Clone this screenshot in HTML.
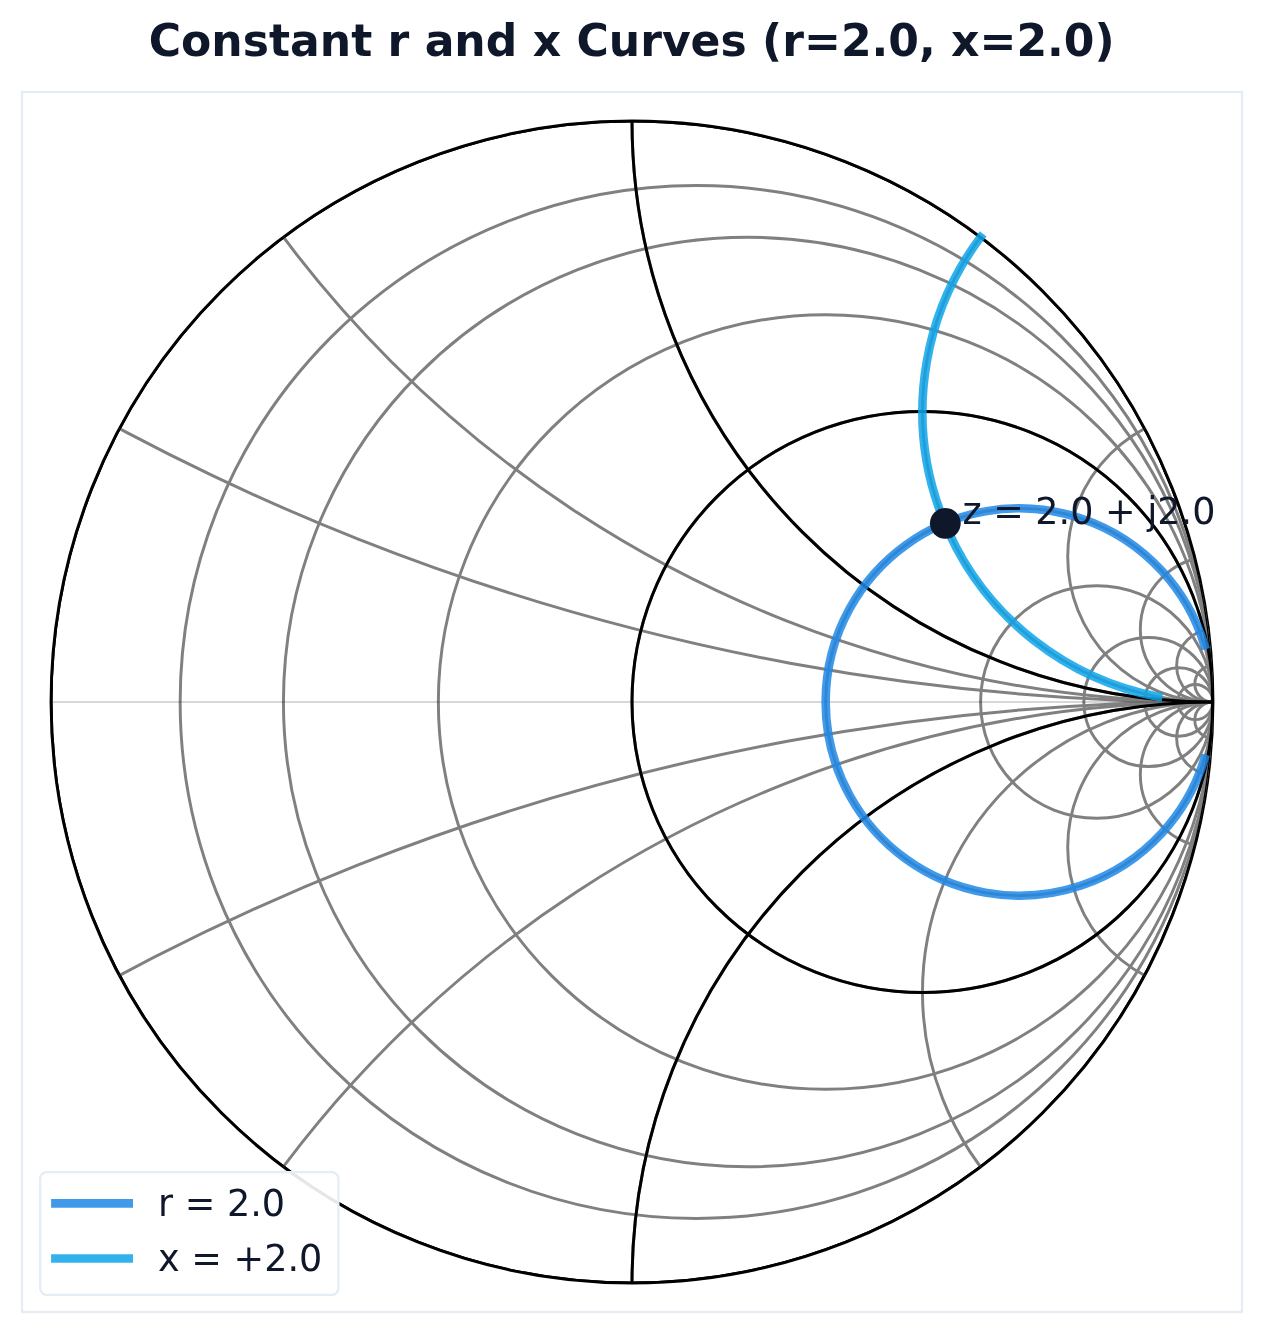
<!DOCTYPE html>
<html lang="en"><head><meta charset="utf-8"><title>Constant r and x Curves</title>
<style>
html,body{margin:0;padding:0;background:#fff;}
body{width:1263px;height:1334px;overflow:hidden;}
svg{display:block;}
text{font-family:"DejaVu Sans","Liberation Sans",sans-serif;fill:#0f172a;}
</style></head><body>
<svg width="1263" height="1334" viewBox="0 0 1263 1334">
<defs><clipPath id="uc"><circle cx="632.00" cy="702.00" r="580.95"/></clipPath></defs>
<rect x="0" y="0" width="1263" height="1334" fill="#ffffff"/>
<text x="631.7" y="55.9" text-anchor="middle" font-size="44.08" font-weight="bold">Constant r and x Curves (r=2.0, x=2.0)</text>
<rect x="22" y="92" width="1220" height="1220" fill="none" stroke="#e5ecf6" stroke-width="2.22"/>
<circle cx="632.00" cy="702.00" r="580.95" fill="none" stroke="#000" stroke-width="2.95"/>
<g clip-path="url(#uc)" fill="none">
<g stroke="#808080" stroke-width="2.95">
<circle cx="696.55" cy="702.00" r="516.40"/>
<circle cx="748.19" cy="702.00" r="464.76"/>
<circle cx="825.65" cy="702.00" r="387.30"/>
<circle cx="922.48" cy="702.00" r="290.48"/>
<circle cx="1019.30" cy="702.00" r="193.65"/>
<circle cx="1096.76" cy="702.00" r="116.19"/>
<circle cx="1148.40" cy="702.00" r="64.55"/>
<circle cx="1178.78" cy="702.00" r="34.17"/>
<circle cx="1195.35" cy="702.00" r="17.60"/>
<circle cx="1212.95" cy="-1621.80" r="2323.80"/>
<circle cx="1212.95" cy="-459.90" r="1161.90"/>
<circle cx="1212.95" cy="121.05" r="580.95"/>
<circle cx="1212.95" cy="411.52" r="290.48"/>
<circle cx="1212.95" cy="556.76" r="145.24"/>
<circle cx="1212.95" cy="629.38" r="72.62"/>
<circle cx="1212.95" cy="665.69" r="36.31"/>
<circle cx="1212.95" cy="683.85" r="18.15"/>
<circle cx="1212.95" cy="3025.80" r="2323.80"/>
<circle cx="1212.95" cy="1863.90" r="1161.90"/>
<circle cx="1212.95" cy="1282.95" r="580.95"/>
<circle cx="1212.95" cy="992.48" r="290.48"/>
<circle cx="1212.95" cy="847.24" r="145.24"/>
<circle cx="1212.95" cy="774.62" r="72.62"/>
<circle cx="1212.95" cy="738.31" r="36.31"/>
<circle cx="1212.95" cy="720.15" r="18.15"/>
</g>
<g stroke="#000" stroke-width="2.95">
<circle cx="632.00" cy="702.00" r="580.95"/>
<circle cx="922.48" cy="702.00" r="290.48"/>
<circle cx="1212.95" cy="121.05" r="580.95"/>
<circle cx="1212.95" cy="1282.95" r="580.95"/>
</g>
<line x1="51.05" y1="702.00" x2="1212.95" y2="702.00" stroke="#000" stroke-opacity="0.21" stroke-width="1.5"/>
<line x1="1212.95" y1="121.05" x2="1212.95" y2="1282.95" stroke="#000" stroke-width="4.17"/>
</g>
<path d="M1204.43 758.82 A193.65 193.65 0 1 1 1204.43 645.18" fill="none" stroke="#1e88e5" stroke-opacity="0.85" stroke-width="8.60" stroke-linecap="square"/>
<path d="M980.57 237.24 A290.48 290.48 0 0 0 1158.12 696.78" fill="none" stroke="#0ea5e9" stroke-opacity="0.85" stroke-width="8.60" stroke-linecap="square"/>
<circle cx="945.32" cy="523.35" r="15.4" fill="#0f172a"/>
<text x="962.4" y="524.2" font-size="36.5">z = 2.0 + j2.0</text>
<rect x="40.2" y="1172.2" width="298.2" height="122.6" rx="6.5" ry="6.5" fill="#fff" fill-opacity="0.9" stroke="#e5ecf6" stroke-width="2.22"/>
<line x1="51.1" y1="1203.4" x2="133" y2="1203.4" stroke="#1e88e5" stroke-opacity="0.85" stroke-width="8.60"/>
<line x1="51.1" y1="1258.5" x2="133" y2="1258.5" stroke="#0ea5e9" stroke-opacity="0.85" stroke-width="8.60"/>
<text x="158" y="1216" font-size="36.6">r = 2.0</text>
<text x="158" y="1271" font-size="36.6">x = +2.0</text>
</svg>
</body></html>
